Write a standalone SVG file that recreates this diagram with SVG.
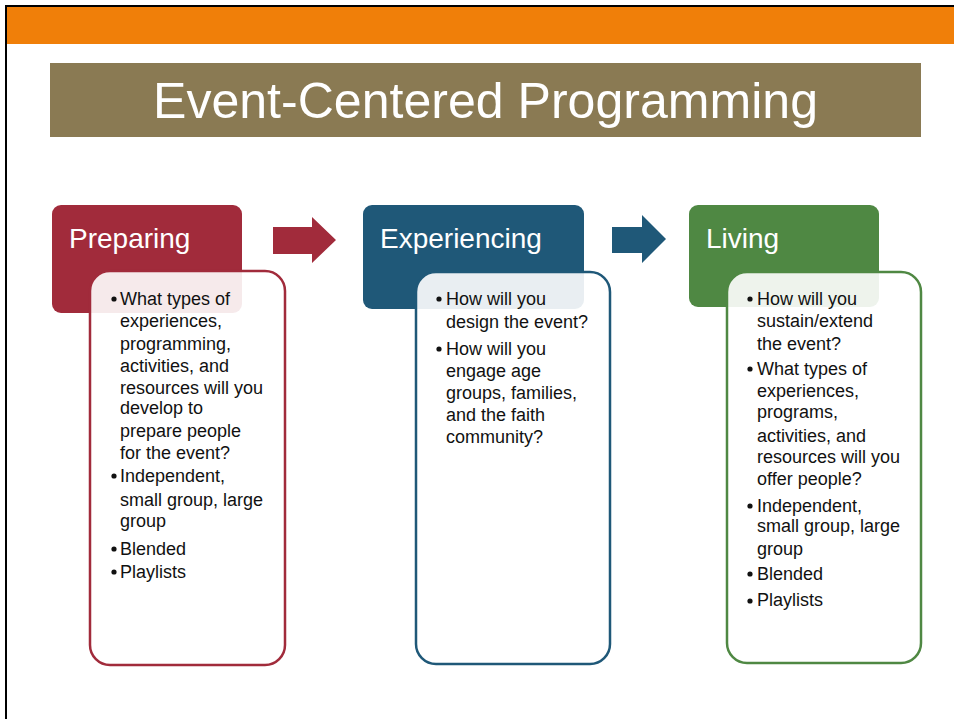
<svg xmlns="http://www.w3.org/2000/svg" width="954" height="719" viewBox="0 0 954 719">
<style>
.t{font-family:"Liberation Sans",Arial,sans-serif;font-size:18px;fill:#111}
.h{font-family:"Liberation Sans",Arial,sans-serif;font-size:28px;fill:#fff}
.body{fill:#fff;fill-opacity:0.9;stroke-width:2.5}
</style>
<rect x="0" y="0" width="954" height="719" fill="#fff"/>
<rect x="6" y="7" width="948" height="37" fill="#F07F09"/>
<path d="M6,719 V6 H954" fill="none" stroke="#000" stroke-width="2"/>
<g id="title">
<rect x="50" y="63" width="871" height="74" fill="#8A7A53"/>
<text x="153" y="118" font-family="'Liberation Sans',Arial,sans-serif" font-size="50" fill="#fff" textLength="665" lengthAdjust="spacingAndGlyphs">Event-Centered Programming</text>
</g>
<g id="connectors">
<polygon points="273,227 312,227 312,217 336,240 312,263 312,254 273,254" fill="#A12B3B"/>
<polygon points="612,227 642,227 642,215 666,239 642,263 642,253 612,253" fill="#1F5878"/>
</g>
<g id="preparing">
<rect x="52" y="205" width="190" height="108" rx="9" fill="#A12B3B"/>
<text class="h" x="69" y="248">Preparing</text>
<rect class="body" x="90" y="271" width="195" height="394" rx="20" stroke="#A12B3B"/>
<g fill="#111"><circle cx="114" cy="299" r="2.6"/><circle cx="114" cy="476" r="2.6"/><circle cx="114" cy="549" r="2.6"/><circle cx="114" cy="572" r="2.6"/></g>
<text class="t" x="120" y="305">What types of</text>
<text class="t" x="120" y="327">experiences,</text>
<text class="t" x="120" y="350">programming,</text>
<text class="t" x="120" y="372">activities, and</text>
<text class="t" x="120" y="394">resources will you</text>
<text class="t" x="120" y="414">develop to</text>
<text class="t" x="120" y="437">prepare people</text>
<text class="t" x="120" y="459">for the event?</text>
<text class="t" x="120" y="482">Independent,</text>
<text class="t" x="120" y="506">small group, large</text>
<text class="t" x="120" y="527">group</text>
<text class="t" x="120" y="555">Blended</text>
<text class="t" x="120" y="578">Playlists</text>
</g>
<g id="experiencing">
<rect x="363" y="205" width="221" height="104" rx="9" fill="#1F5878"/>
<text class="h" x="380" y="248">Experiencing</text>
<rect class="body" x="416" y="272" width="194" height="392" rx="20" stroke="#1F5878"/>
<g fill="#111"><circle cx="439" cy="299" r="2.6"/><circle cx="439" cy="349" r="2.6"/></g>
<text class="t" x="446" y="305">How will you</text>
<text class="t" x="446" y="328">design the event?</text>
<text class="t" x="446" y="355">How will you</text>
<text class="t" x="446" y="377">engage age</text>
<text class="t" x="446" y="399">groups, families,</text>
<text class="t" x="446" y="421">and the faith</text>
<text class="t" x="446" y="443">community?</text>
</g>
<g id="living">
<rect x="689" y="205" width="190" height="102" rx="9" fill="#4F8843"/>
<text class="h" x="706" y="248">Living</text>
<rect class="body" x="727" y="272" width="194" height="391" rx="20" stroke="#4F8843"/>
<g fill="#111"><circle cx="750" cy="299" r="2.6"/><circle cx="750" cy="369" r="2.6"/><circle cx="750" cy="506" r="2.6"/><circle cx="750" cy="574" r="2.6"/><circle cx="750" cy="601" r="2.6"/></g>
<text class="t" x="757" y="305">How will you</text>
<text class="t" x="757" y="327">sustain/extend</text>
<text class="t" x="757" y="350">the event?</text>
<text class="t" x="757" y="375">What types of</text>
<text class="t" x="757" y="397">experiences,</text>
<text class="t" x="757" y="418">programs,</text>
<text class="t" x="757" y="442">activities, and</text>
<text class="t" x="757" y="463">resources will you</text>
<text class="t" x="757" y="485">offer people?</text>
<text class="t" x="757" y="512">Independent,</text>
<text class="t" x="757" y="532">small group, large</text>
<text class="t" x="757" y="555">group</text>
<text class="t" x="757" y="580">Blended</text>
<text class="t" x="757" y="606">Playlists</text>
</g>
</svg>
